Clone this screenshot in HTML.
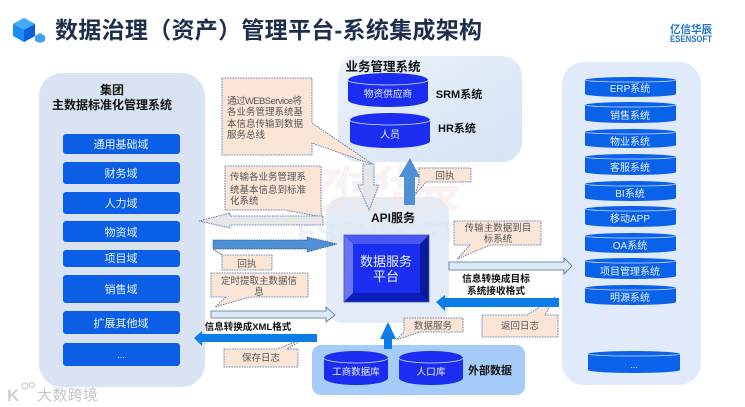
<!DOCTYPE html>
<html lang="zh"><head><meta charset="utf-8"><title>系统集成架构</title>
<style>
html,body{margin:0;padding:0;background:#fff;width:745px;height:407px;overflow:hidden}
svg{display:block;font-size:11px}
text{font-family:"Liberation Sans","Noto Sans CJK SC",sans-serif}
.w{fill:#e8f0ff;text-anchor:middle}
.d{fill:#555;font-size:9.5px}
.m{fill:#555;font-size:9.5px;text-anchor:middle}
.b{fill:#111;font-weight:700;text-anchor:middle}
.c{fill:#fbe5d6;stroke:#3f6cb0;stroke-width:.8;stroke-dasharray:1.6 1}
.cy{fill:#1a2df0}.cr{fill:#0a62ea}
.l{fill:none;stroke:#dce6ff;stroke-width:.8}
</style></head><body>
<svg width="745" height="407" viewBox="0 0 745 407" xmlns="http://www.w3.org/2000/svg">
<defs>
<linearGradient id="g1" x1="0" y1="0" x2="1" y2="1"><stop offset="0" stop-color="#eaf1fa"/><stop offset="1" stop-color="#d5e3f5"/></linearGradient>
</defs>
<rect width="745" height="407" fill="#fff"/>

<!-- header -->
<polygon points="24,18 35,24 35,36 24,42 13,36 13,24" fill="#1c8cf0"/>
<polygon points="24,30 35,24 35,36 24,42" fill="#0b5fd8"/>
<polygon points="13,24 24,18 35,24 24,30" fill="#45aaf5"/>
<polygon points="40,33 45,36 45,41 40,43 35,41 35,36" fill="#3f9df2"/>
<text x="55" y="38" font-size="23" font-weight="700" fill="#1d2f4d" textLength="427" lengthAdjust="spacing">数据治理（资产）管理平台-系统集成架构</text>
<text x="670" y="33" font-size="11" font-weight="700" fill="#1f74c8" textLength="42" lengthAdjust="spacingAndGlyphs">亿信华辰</text>
<text x="670" y="42" font-size="9.500" font-weight="700" fill="#1f74c8" textLength="42" lengthAdjust="spacingAndGlyphs">ESENSOFT</text>

<!-- left panel -->
<rect x="39" y="73" width="166" height="314" rx="23" fill="#dae3f3"/>
<text class="b" x="112" y="94" font-size="12">集团</text>
<text class="b" x="112" y="109" font-size="12">主数据标准化管理系统</text>
<g fill="#0a5fe6">
<rect x="63" y="134" width="117" height="20" rx="3"/>
<rect x="63" y="162" width="117" height="22" rx="3"/>
<rect x="63" y="192" width="117" height="22" rx="3"/>
<rect x="63" y="221" width="117" height="21" rx="3"/>
<rect x="63" y="250" width="117" height="17" rx="3"/>
<rect x="63" y="275" width="117" height="28" rx="3"/>
<rect x="63" y="311" width="117" height="23" rx="3"/>
<rect x="63" y="343" width="117" height="23" rx="3"/>
</g>
<g>
<text class="w" x="121" y="148">通用基础域</text>
<text class="w" x="121" y="177">财务域</text>
<text class="w" x="121" y="207">人力域</text>
<text class="w" x="121" y="236">物资域</text>
<text class="w" x="121" y="262">项目域</text>
<text class="w" x="121" y="293">销售域</text>
<text class="w" x="121" y="327">扩展其他域</text>
<text class="w" x="121" y="358" font-size="9">...</text>
</g>

<!-- business panel -->
<rect x="338" y="56" width="184" height="106" rx="20" fill="url(#g1)"/>
<text class="b" x="383" y="71" font-size="12.500">业务管理系统</text>
<path class="cy" d="M348,80A40,7 0 0 1 428,80V100A40,7 0 0 1 348,100Z"/>
<path class="l" d="M348,80A40,5 0 0 0 428,80"/>
<path class="cy" d="M350,120A40,7 0 0 1 430,120V141A40,7 0 0 1 350,141Z"/>
<path class="l" d="M350,120A40,5 0 0 0 430,120"/>
<text class="w" x="388" y="97" font-size="9.700">物资供应商</text>
<text class="w" x="390" y="138" font-size="10">人员</text>
<text class="b" x="459" y="98">SRM系统</text>
<text class="b" x="457" y="132">HR系统</text>

<!-- right panel -->
<rect x="562" y="62" width="139" height="323" rx="22" fill="#e1eafa"/>
<g class="cr">
<path d="M585,80A45.500,3 0 0 1 676,80V94A45.500,3 0 0 1 585,94Z"/>
<path d="M585,105A45.500,3 0 0 1 676,105V120A45.500,3 0 0 1 585,120Z"/>
<path d="M585,132A45.500,3 0 0 1 676,132V145A45.500,3 0 0 1 585,145Z"/>
<path d="M585,157A45.500,3 0 0 1 676,157V172A45.500,3 0 0 1 585,172Z"/>
<path d="M585,184A45.500,3 0 0 1 676,184V198A45.500,3 0 0 1 585,198Z"/>
<path d="M585,209A45.500,3 0 0 1 676,209V224A45.500,3 0 0 1 585,224Z"/>
<path d="M585,236A45.500,3 0 0 1 676,236V250A45.500,3 0 0 1 585,250Z"/>
<path d="M585,261A45.500,3 0 0 1 676,261V276A45.500,3 0 0 1 585,276Z"/>
<path d="M585,288A45.500,3 0 0 1 676,288V302A45.500,3 0 0 1 585,302Z"/>
<path d="M588,354A46,3 0 0 1 680,354V370A46,3 0 0 1 588,370Z"/>
</g>
<g fill="none" stroke="#cfe0ff" stroke-width=".7">
<path d="M585,80A45.500,2 0 0 0 676,80"/><path d="M585,105A45.500,2 0 0 0 676,105"/><path d="M585,132A45.500,2 0 0 0 676,132"/><path d="M585,157A45.500,2 0 0 0 676,157"/><path d="M585,184A45.500,2 0 0 0 676,184"/><path d="M585,209A45.500,2 0 0 0 676,209"/><path d="M585,236A45.500,2 0 0 0 676,236"/><path d="M585,261A45.500,2 0 0 0 676,261"/><path d="M585,288A45.500,2 0 0 0 676,288"/><path d="M588,354A46,2 0 0 0 680,354"/>
</g>
<g font-size="10">
<text class="w" x="630" y="92" font-size="10">ERP系统</text>
<text class="w" x="630" y="119" font-size="10">销售系统</text>
<text class="w" x="630" y="145" font-size="10">物业系统</text>
<text class="w" x="630" y="171" font-size="10">客服系统</text>
<text class="w" x="630" y="197" font-size="10">BI系统</text>
<text class="w" x="630" y="222" font-size="10">移动APP</text>
<text class="w" x="630" y="249" font-size="10">OA系统</text>
<text class="w" x="630" y="275" font-size="10">项目管理系统</text>
<text class="w" x="630" y="301" font-size="10">明源系统</text>
<text class="w" x="634" y="368" font-size="9">...</text>
</g>

<!-- center panel -->
<rect x="326" y="197" width="123" height="126" rx="17" fill="#e3ebf6"/>
<text x="295" y="208" font-size="50" font-weight="700" fill="#f3e9e6" opacity=".55" textLength="165">亿信华辰</text>
<text x="297" y="243" font-size="30" font-weight="700" fill="#dfe7f3" opacity=".55" textLength="160">ESENSOFT</text>
<polygon points="344,235 429,235 429,302 344,302" fill="#1a2df0"/>
<polygon points="344,235 429,235 420,244 353,244" fill="#4a57f5"/>
<polygon points="344,235 353,244 353,293 344,302" fill="#6a75f0"/>
<polygon points="429,235 420,244 420,293 429,302" fill="#0b1a96"/>
<polygon points="344,302 353,293 420,293 429,302" fill="#0c1fb8"/>
<rect x="344" y="235" width="85" height="67" fill="none" stroke="#3f5aa8" stroke-width=".8"/>
<text class="w" x="386" y="266" font-size="13">数据服务</text>
<text class="w" x="386" y="281" font-size="13">平台</text>
<text class="b" x="393" y="222" font-size="12">API服务</text>

<!-- external -->
<rect x="312" y="345" width="213" height="50" rx="9" fill="#a5cbf8"/>
<path class="cy" d="M324,358A32,7 0 0 1 388,358V378A32,7 0 0 1 324,378Z"/>
<path class="l" d="M324,358A32,5 0 0 0 388,358"/>
<path class="cy" d="M399,358A32,7 0 0 1 463,358V378A32,7 0 0 1 399,378Z"/>
<path class="l" d="M399,358A32,5 0 0 0 463,358"/>
<text class="w" x="356" y="375" font-size="9.500">工商数据库</text>
<text class="w" x="431" y="375" font-size="9.700">人口库</text>
<text class="b" x="490" y="374" font-size="11">外部数据</text>

<!-- callouts -->
<polygon class="c" points="222,78 312,78 312,123 374,165 312,143 312,155 222,155"/>
<text class="d" x="227" y="104" textLength="75">通过WEBService将</text>
<text class="d" x="227" y="115">各业务管理系统基</text>
<text class="d" x="227" y="127">本信息传输到数据</text>
<text class="d" x="227" y="138">服务总线</text>

<polygon class="c" points="225,166 321,166 321,210 322,217 285,210 225,210"/>
<text class="d" x="230" y="180">传输各业务管理系</text>
<text class="d" x="230" y="193">统基本信息到标准</text>
<text class="d" x="230" y="204">化系统</text>

<polygon class="c" points="419,168 471,168 471,182 426,182 415,195 419,182"/>
<text class="m" x="445" y="179">回执</text>

<polygon class="c" points="222,255 272,255 272,270 222,270 222,255 213,249"/>
<text class="m" x="247" y="267">回执</text>

<polygon class="c" points="211,273 308,273 308,297 250,297 215,307 226,297 211,297"/>
<text class="m" x="259" y="284">定时提取主数据信</text>
<text class="m" x="259" y="295">息</text>

<polygon class="c" points="224,349 277,349 307,337 287,349 298,349 298,367 224,367"/>
<text class="m" x="261" y="361">保存日志</text>

<polygon class="c" points="454,221 541,221 541,245 490,245 457,259 470,245 454,245"/>
<text class="m" x="498" y="231">传输主数据到目</text>
<text class="m" x="498" y="242">标系统</text>

<polygon class="c" points="482,315 527,315 555,297 545,315 558,315 558,337 482,337"/>
<text class="m" x="520" y="329">返回日志</text>

<polygon class="c" points="404,318 463,318 463,332 420,332 396,340 404,332"/>
<text class="m" x="433" y="329">数据服务</text>

<!-- arrows -->
<polygon points="363,164 374,164 374,185 379,185 369,210 358,185 363,185" fill="#e7e6e6" stroke="#3f6cb0" stroke-width=".8" stroke-dasharray="1.6 1"/>
<polygon points="323,216 230,216 230,213 199,221 230,228 230,225 323,225" fill="#e7e6e6" stroke="#3f6cb0" stroke-width=".8" stroke-dasharray="1.6 1"/>
<polygon points="404,205 415,205 415,177 420,177 410,158 399,177 404,177" fill="#4f8fd3"/>
<polygon points="213,240 307,240 307,237 337,244 307,252 307,249 213,249" fill="#4f8fd3" stroke="#23467f" stroke-width=".7" stroke-dasharray="1.4 1"/>
<polygon points="211,311 326,311 326,307 335,315 326,322 326,318 211,318" fill="#dfe9f6" stroke="#4a6fa8" stroke-width=".8"/>
<polygon points="317,334 202,334 202,331 194,338 202,346 202,342 317,342" fill="#0b7de8"/>
<polygon points="449,262 564,262 564,258 572,266 564,274 564,270 449,270" fill="#dfe9f6" stroke="#4a6fa8" stroke-width=".8"/>
<polygon points="559,298 445,298 445,295 436,302 445,311 445,307 559,307" fill="#0b7de8"/>
<polygon points="384,349 392,349 392,339 396,339 388,322 380,339 384,339" fill="#0b7de8"/>

<!-- arrow labels -->
<text class="b" x="248" y="330" font-size="9.500">信息转换成XML格式</text>
<text class="b" x="496" y="282" font-size="9.700">信息转换成目标</text>
<text class="b" x="496" y="294" font-size="9.700">系统接收格式</text>

<!-- footer watermark -->
<text x="7" y="401" font-size="17" fill="#d0d0d0" font-weight="700">K</text>
<circle cx="25" cy="386" r="3" fill="none" stroke="#d0d0d0" stroke-width="1.300"/>
<circle cx="32" cy="385" r="2.500" fill="none" stroke="#d0d0d0" stroke-width="1.300"/>
<text x="37" y="400" font-size="15" fill="#c6c6c6" textLength="61">大数跨境</text>
</svg>
</body></html>
